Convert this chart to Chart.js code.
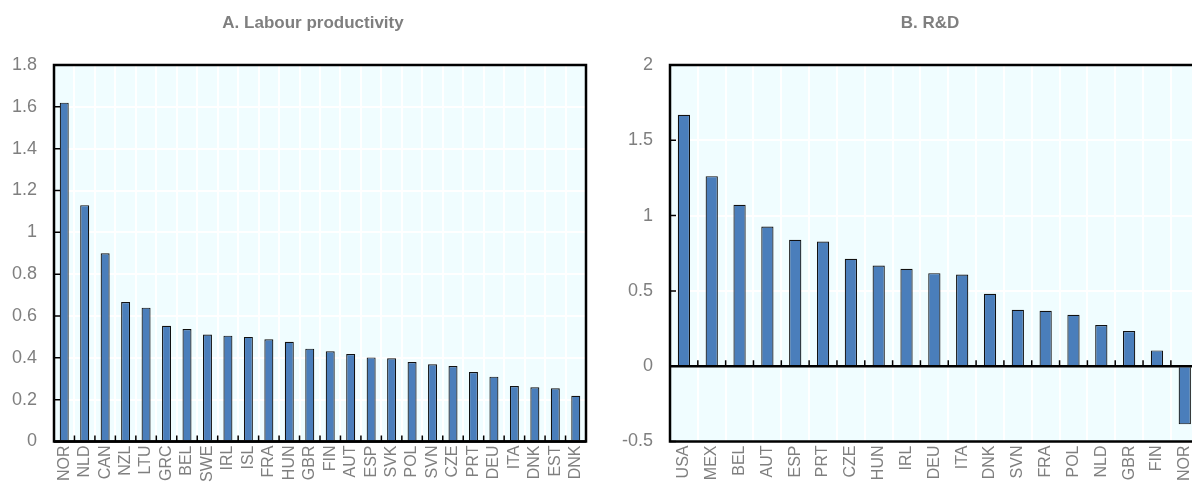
<!DOCTYPE html>
<html>
<head>
<meta charset="utf-8">
<script src="https://cdn.jsdelivr.net/npm/chart.js@4.4.0/dist/chart.umd.min.js"></script>
<style>
  html, body { margin: 0; padding: 0; background: #fff; width: 1192px; height: 482px; overflow: hidden; }
  #caixaA { position: absolute; left: 0; top: 0; width: 626px; height: 482px; }
  #caixaB { position: absolute; left: 600px; top: 0; width: 660px; height: 482px; }
</style>
</head>
<body>
<div id="caixaA"><canvas id="graficoProdutividade"></canvas></div>
<div id="caixaB"><canvas id="graficoPD"></canvas></div>

<script>
// dados
const paisesProdutividade = ['NOR', 'NLD', 'CAN', 'NZL', 'LTU', 'GRC', 'BEL', 'SWE', 'IRL', 'ISL', 'FRA', 'HUN', 'GBR',
  'FIN', 'AUT', 'ESP', 'SVK', 'POL', 'SVN', 'CZE', 'PRT', 'DEU', 'ITA', 'DNK', 'EST', 'DNK'];
const valoresProdutividade = [1.62, 1.13, 0.90, 0.667, 0.64, 0.553, 0.538, 0.511, 0.506, 0.50, 0.489, 0.477, 0.444,
  0.431, 0.418, 0.402, 0.398, 0.38, 0.369, 0.361, 0.332, 0.31, 0.265, 0.259, 0.254, 0.219];

const paisesPD = ['USA', 'MEX', 'BEL', 'AUT', 'ESP', 'PRT', 'CZE', 'HUN', 'IRL', 'DEU', 'ITA', 'DNK', 'SVN',
  'FRA', 'POL', 'NLD', 'GBR', 'FIN', 'NOR'];
const valoresPD = [1.67, 1.262, 1.072, 0.928, 0.84, 0.828, 0.713, 0.669, 0.647, 0.618, 0.609, 0.481, 0.375,
  0.368, 0.342, 0.273, 0.233, 0.105, -0.386];

// eixos: min, max, passo
const eixoProdutividade = [0, 1.8, 0.2];
const eixoPD = [-0.5, 2, 0.5];

const corBarra = '#4A7EBB';
const corTexto = '#7F7F7F';
const corFundo = '#F0FDFF';

Chart.defaults.font.family = "'Liberation Sans', Arial, sans-serif";
Chart.defaults.color = corTexto;

// fundo da area do grafico
const fundoArea = {
  id: 'fundoArea',
  beforeDraw(chart) {
    const { ctx, chartArea } = chart;
    ctx.save();
    ctx.fillStyle = corFundo;
    ctx.fillRect(chartArea.left, chartArea.top, chartArea.right - chartArea.left, chartArea.bottom - chartArea.top);
    ctx.restore();
  }
};

// titulo centrado no canvas inteiro
const tituloPainel = {
  id: 'tituloPainel',
  afterDraw(chart, args, opcoes) {
    const ctx = chart.ctx;
    ctx.save();
    ctx.fillStyle = corTexto;
    ctx.font = "bold 17px 'Liberation Sans', Arial, sans-serif";
    ctx.textAlign = 'center';
    ctx.textBaseline = 'middle';
    ctx.fillText(opcoes.texto, chart.width / 2, 23);
    ctx.restore();
  }
};

// moldura preta, linha do zero e tracinhos
const moldura = {
  id: 'moldura',
  afterDatasetsDraw(chart) {
    const { ctx, chartArea, scales } = chart;
    const x = scales.x;
    const y = scales.y;
    const y0 = y.getPixelForValue(0);
    ctx.save();
    ctx.strokeStyle = '#000';
    ctx.lineWidth = 1.5;
    ctx.beginPath();
    y.ticks.forEach(t => {
      const py = y.getPixelForValue(t.value);
      ctx.moveTo(chartArea.left, py);
      ctx.lineTo(chartArea.left + 6, py);
    });
    for (let i = 1; i < x.ticks.length; i++) {
      const px = (x.getPixelForTick(i - 1) + x.getPixelForTick(i)) / 2;
      ctx.moveTo(px, y0);
      ctx.lineTo(px, y0 - 6);
    }
    ctx.stroke();
    ctx.lineWidth = 2.5;
    ctx.strokeRect(chartArea.left, chartArea.top, chartArea.right - chartArea.left, chartArea.bottom - chartArea.top);
    ctx.beginPath();
    ctx.moveTo(chartArea.left, y0);
    ctx.lineTo(chartArea.right, y0);
    ctx.stroke();
    ctx.restore();
  }
};

function criarGrafico(idCanvas, titulo, paises, valores, eixo, larguraEixoY, folgaDir) {
  const ctx = document.getElementById(idCanvas);
  return new Chart(ctx, {
    type: 'bar',
    data: {
      labels: paises,
      datasets: [{
        data: valores,
        backgroundColor: corBarra,
        borderColor: '#111111',
        borderWidth: 1.2,
        categoryPercentage: 1,
        barPercentage: 0.44
      }]
    },
    options: {
      responsive: true,
      maintainAspectRatio: false,
      animation: false,
      layout: { padding: { left: 0, right: folgaDir, top: 65, bottom: 0 } },
      plugins: {
        legend: { display: false },
        tooltip: { enabled: false },
        title: { display: false },
        tituloPainel: { texto: titulo }
      },
      scales: {
        x: {
          grid: { color: '#FFFFFF', lineWidth: 2, drawTicks: false, offset: true },
          border: { display: false },
          ticks: {
            autoSkip: false,
            maxRotation: 90,
            minRotation: 90,
            padding: 4,
            color: corTexto,
            font: { size: 16 }
          },
          afterFit(scale) { scale.height = 40.5; }
        },
        y: {
          min: eixo[0],
          max: eixo[1],
          grid: { color: '#FFFFFF', lineWidth: 2, drawTicks: false },
          border: { display: false },
          ticks: {
            stepSize: eixo[2],
            padding: 17,
            color: corTexto,
            font: { size: 18 },
            callback: valor => String(+valor.toFixed(1))
          },
          afterFit(scale) { scale.width = larguraEixoY; }
        }
      }
    },
    plugins: [fundoArea, moldura, tituloPainel]
  });
}

document.addEventListener('DOMContentLoaded', () => {
  criarGrafico('graficoProdutividade', 'A. Labour productivity', paisesProdutividade, valoresProdutividade, eixoProdutividade, 54, 40);
  criarGrafico('graficoPD', 'B. R&D', paisesPD, valoresPD, eixoPD, 70, 61.3);
});
</script>
</body>
</html>
